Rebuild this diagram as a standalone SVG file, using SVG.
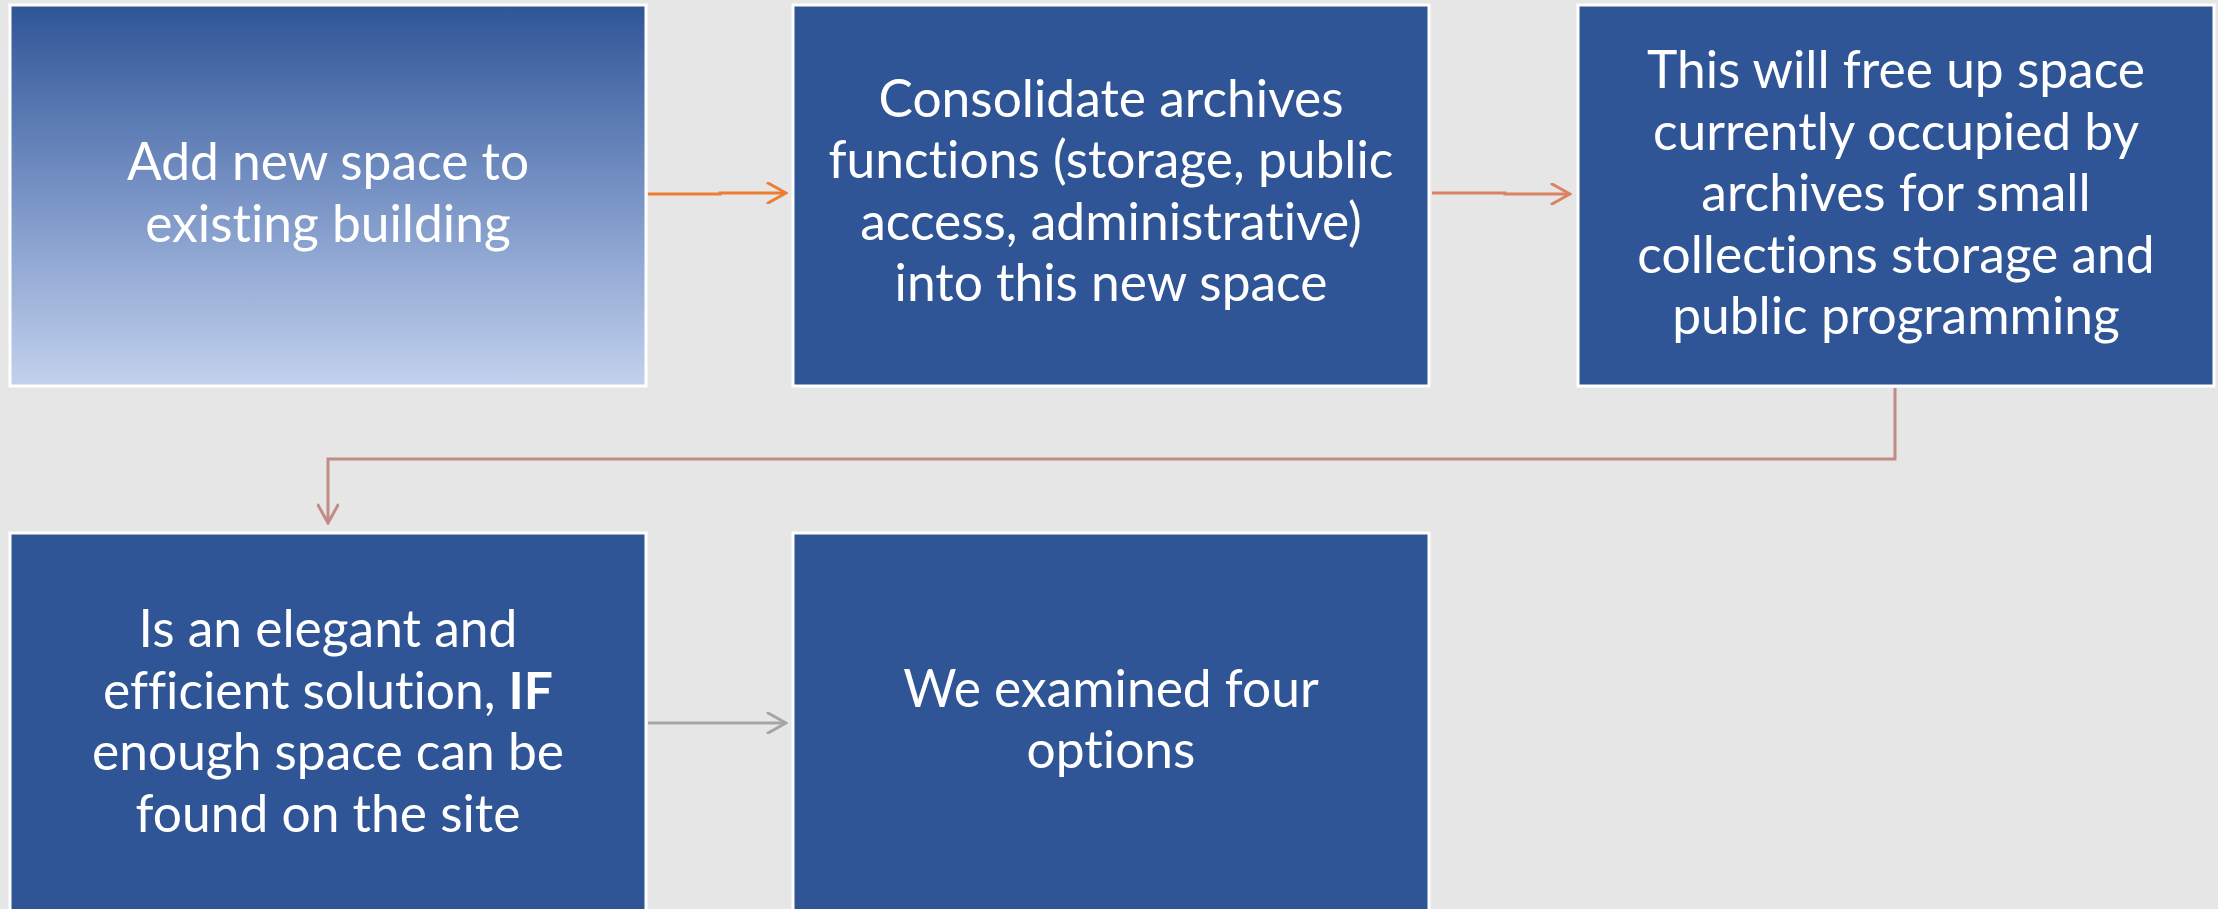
<svg xmlns="http://www.w3.org/2000/svg" width="2218" height="909" viewBox="0 0 2218 909">
<defs>
<linearGradient id="g1" x1="0" y1="0" x2="0" y2="1">
<stop offset="0" stop-color="#2F5597"/>
<stop offset="0.5" stop-color="#7893C5"/>
<stop offset="1" stop-color="#C3D2EE"/>
</linearGradient>
<marker id="m1" viewBox="0 0 22 22" refX="20" refY="11" markerWidth="22" markerHeight="22" markerUnits="userSpaceOnUse" orient="auto"><path d="M2,1 L20,11 L2,21" fill="none" stroke="#ED7D31" stroke-width="3" stroke-linecap="round"/></marker>
<marker id="m2" viewBox="0 0 22 22" refX="20" refY="11" markerWidth="22" markerHeight="22" markerUnits="userSpaceOnUse" orient="auto"><path d="M2,1 L20,11 L2,21" fill="none" stroke="#D98264" stroke-width="3" stroke-linecap="round"/></marker>
<marker id="m3" viewBox="0 0 22 22" refX="20" refY="11" markerWidth="22" markerHeight="22" markerUnits="userSpaceOnUse" orient="auto"><path d="M2,1 L20,11 L2,21" fill="none" stroke="#C08C84" stroke-width="3" stroke-linecap="round"/></marker>
<marker id="m4" viewBox="0 0 22 22" refX="20" refY="11" markerWidth="22" markerHeight="22" markerUnits="userSpaceOnUse" orient="auto"><path d="M2,1 L20,11 L2,21" fill="none" stroke="#A5A5A5" stroke-width="3" stroke-linecap="round"/></marker>
</defs>
<style>
.box{fill:#2F5597;stroke:#FFFFFF;stroke-width:3}
.t{font-family:Lato,"Open Sans","Liberation Sans",sans-serif;font-size:51.5px;fill:#FFFFFF;text-anchor:middle;font-variant-ligatures:none;font-feature-settings:"liga" 0,"dlig" 0}
.c{fill:none;stroke-width:3}
</style>
<rect width="2218" height="909" fill="#E7E6E6"/>
<g id="connectors">
<path class="c" d="M648,194 H720 V193 H786" stroke="#ED7D31" marker-end="url(#m1)"/>
<path class="c" d="M1432,193 H1505 V194 H1570" stroke="#D98264" marker-end="url(#m2)"/>
<path class="c" d="M1895,388 V459 H328 V523" stroke="#C08C84" marker-end="url(#m3)"/>
<path class="c" d="M648,723 H786" stroke="#A5A5A5" marker-end="url(#m4)"/>
</g>
<g id="n1">
<rect x="10" y="5" width="636" height="381" fill="url(#g1)" stroke="#FFFFFF" stroke-width="3"/>
<text class="t" x="328" y="180">Add new space to</text>
<text class="t" x="328" y="242">existing building</text>
</g>
<g id="n2">
<rect class="box" x="793" y="5" width="636" height="381"/>
<text class="t" x="1111" y="117">Consolidate archives</text>
<text class="t" x="1111" y="178">functions (storage, public</text>
<text class="t" x="1111" y="240">access, administrative)</text>
<text class="t" x="1111" y="301">into this new space</text>
</g>
<g id="n3">
<rect class="box" x="1578" y="5" width="636" height="381"/>
<text class="t" x="1896" y="88">This will free up space</text>
<text class="t" x="1896" y="150">currently occupied by</text>
<text class="t" x="1896" y="211">archives for small</text>
<text class="t" x="1896" y="273">collections storage and</text>
<text class="t" x="1896" y="334">public programming</text>
</g>
<g id="n4">
<rect class="box" x="10" y="533" width="636" height="381"/>
<text class="t" x="328" y="647">Is an elegant and</text>
<text class="t" x="328" y="709">efficient solution, <tspan font-weight="bold">IF</tspan></text>
<text class="t" x="328" y="770">enough space can be</text>
<text class="t" x="328" y="832">found on the site</text>
</g>
<g id="n5">
<rect class="box" x="793" y="533" width="636" height="381"/>
<text class="t" x="1111" y="707">We examined four</text>
<text class="t" x="1111" y="768">options</text>
</g>
</svg>
